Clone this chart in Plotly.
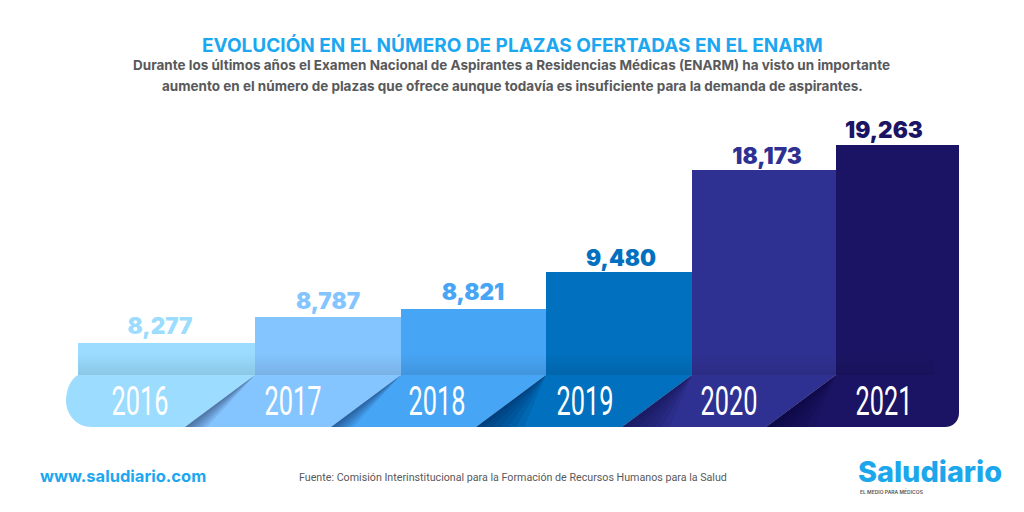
import plotly.graph_objects as go

# --- data ---
years = ["2016", "2017", "2018", "2019", "2020", "2021"]
plazas = [8277, 8787, 8821, 9480, 18173, 19263]
# drawn height of each step above the band (the source's steps are not to scale)
step_heights = [32, 58, 66, 103, 205, 230]
colors = ["#9BDCFF", "#85C5FF", "#47A5F5", "#0170BE", "#2F3192", "#1B1464"]
value_colors = ["#9BDCFF", "#85C5FF", "#47A5F5", "#0170BE", "#2F3192", "#1B1464"]

title = "EVOLUCIÓN EN EL NÚMERO DE PLAZAS OFERTADAS EN EL ENARM"
sub1 = "Durante los últimos años el Examen Nacional de Aspirantes a Residencias Médicas (ENARM) ha visto un importante"
sub2 = "aumento en el número de plazas que ofrece aunque todavía es insuficiente para la demanda de aspirantes."
source = "Fuente: Comisión Interinstitucional para la Formación de Recursos Humanos para la Salud"
site = "www.saludiario.com"
logo = "Saludiario"
logo_sub = "EL MEDIO PARA MÉDICOS"

# --- layout geometry (pixels of the 1024x512 canvas) ---
W, H = 1024, 512
PAGE_MARGIN = 8   # the page's body margin shifts the figure by this much
def Y(p):
    return H - p

edges = [78, 255, 401, 546, 692, 836, 959]
label_x = [160, 328, 473, 621, 767, 884]
label_p = [328, 303, 294, 260, 158, 132]
year_x = [140, 293, 437, 585, 729, 884]
band_top, band_bot = 375, 427
slant = 70
base = Y(band_top)

fig = go.Figure()

# steps
centers = [(edges[i] + edges[i + 1]) / 2 for i in range(6)]
widths = [edges[i + 1] - edges[i] for i in range(6)]
fig.add_trace(go.Bar(x=centers, y=step_heights, base=base, width=widths,
                     marker=dict(color=colors, line=dict(width=0)),
                     hoverinfo="skip", showlegend=False))

# darkening at the foot of each step
for i in range(6):
    h = min(step_heights[i], 22)
    l, r = edges[i], edges[i + 1] if i < 5 else edges[i + 1] - 25
    fig.add_trace(go.Scatter(
        x=[l, r, r, l, l], y=[base, base, base + h, base + h, base],
        mode="lines", line=dict(width=0), fill="toself",
        fillgradient=dict(type="vertical",
                          colorscale=[[0, "rgba(0,0,0,0.10)"], [1, "rgba(0,0,0,0)"]]),
        hoverinfo="skip", showlegend=False))

# band segments
shapes = []
b, t = Y(band_bot), Y(band_top)
for i in range(6):
    if i == 0:
        path = (f"M 78 {t} L 255 {t} L 185 {b} L 92 {b} "
                f"C 75 {b} 66 {b+14} 66 {b+26} C 66 {b+38} 71 {t-4} 78 {t} Z")
    elif i == 5:
        path = (f"M 836 {t} L 959 {t} L 959 {b+14} "
                f"C 959 {b+6} 953 {b} 945 {b} L {836-slant} {b} Z")
    else:
        l, r = edges[i], edges[i + 1]
        path = f"M {l} {t} L {r} {t} L {r-slant} {b} L {l-slant} {b} Z"
    shapes.append(dict(type="path", path=path, fillcolor=colors[i],
                       line=dict(width=0), layer="below"))

# diagonal shadows cast on the band: a fan of thin wedges hugging each edge
for i in range(1, 6):
    e = edges[i]
    max_spread = 22 if i < 3 else 48
    for k in range(1, 7):
        s = max_spread * k / 6
        fig.add_trace(go.Scatter(
            x=[e, e - slant, e - slant + s, e], y=[t, b, b, t],
            mode="lines", line=dict(width=0), fill="toself",
            fillcolor="rgba(0,0,40,0.08)",
            hoverinfo="skip", showlegend=False))

# value labels
fig.add_trace(go.Scatter(
    x=label_x, y=[Y(p) for p in label_p], mode="text",
    text=[f"{v:,}" for v in plazas],
    textfont=dict(family="Inter", size=22.5, weight=900, color=value_colors),
    textposition="middle center", hoverinfo="skip", showlegend=False))

# year labels
fig.add_trace(go.Scatter(
    x=year_x, y=[Y(405)] * 6, mode="text", text=years,
    textfont=dict(family="Roboto", size=41, weight=400, color="white"),
    textposition="middle center", hoverinfo="skip", showlegend=False))

def note(x, p, text, size, color, family="Inter", weight=400, anchor="center"):
    return dict(x=x, y=Y(p), xref="x", yref="y", text=text, showarrow=False,
                xanchor=anchor, yanchor="middle",
                font=dict(family=family, size=size, color=color, weight=weight))

annotations = [
    note(512, 45, title, 19, "#1CA7F0", "Inter", 700),
    note(511, 65, sub1, 13.5, "#58595B", "Inter", 700),
    note(512, 86, sub2, 13.5, "#58595B", "Inter", 700),
    note(38, 476, site, 16.5, "#1CA7F0", "Inter", 700, "left"),
    note(297, 477, source, 10.7, "#58595B", "Roboto", 400, "left"),
    note(856, 471.5, logo, 28.8, "#1CA7EC", "Inter", 800, "left"),
    note(858, 491.5, logo_sub, 5, "#555555", "Inter", 600, "left"),
]

fig.update_layout(
    width=W - PAGE_MARGIN, height=H - PAGE_MARGIN, autosize=False,
    margin=dict(l=0, r=0, t=0, b=0),
    paper_bgcolor="white", plot_bgcolor="white",
    shapes=shapes, annotations=annotations, showlegend=False,
    xaxis=dict(range=[PAGE_MARGIN, W], visible=False, fixedrange=True),
    yaxis=dict(range=[0, H - PAGE_MARGIN], visible=False, fixedrange=True),
)

# No condensed face is installed: squeeze the year labels horizontally, as real text.
condense = """
document.querySelectorAll('.textpoint text').forEach(function (el) {
  if (/^20\\d\\d$/.test(el.textContent)) {
    el.setAttribute('textLength', '57');
    el.setAttribute('lengthAdjust', 'spacingAndGlyphs');
  }
});
"""
fig.write_html("out.html", config={"displayModeBar": False}, post_script=condense)
